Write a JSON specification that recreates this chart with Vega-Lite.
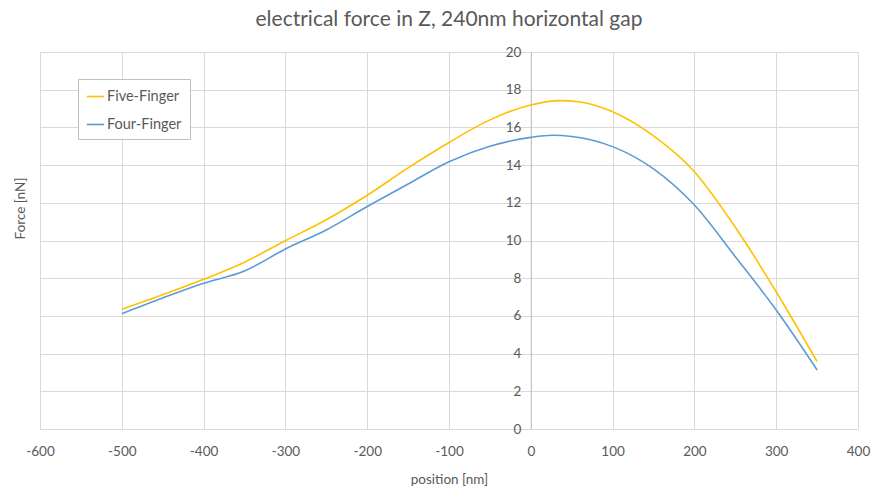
{
  "$schema": "https://vega.github.io/schema/vega-lite/v6.json",
  "autosize": "none",
  "width": 818,
  "height": 377,
  "padding": {"left": 40, "top": 52, "right": 14, "bottom": 59},
  "background": "white",
  "title": {
    "text": "electrical force in Z, 240nm horizontal gap",
    "font": "Lato",
    "fontSize": 21,
    "fontWeight": "normal",
    "color": "#595959",
    "offset": 15
  },
  "config": {
    "view": {"stroke": null},
    "font": "Lato"
  },
  "data": {
    "values": [
      {"x": -500, "y": 6.35, "s": "Five-Finger"},
      {"x": -450, "y": 7.12, "s": "Five-Finger"},
      {"x": -400, "y": 7.94, "s": "Five-Finger"},
      {"x": -350, "y": 8.85, "s": "Five-Finger"},
      {"x": -300, "y": 9.99, "s": "Five-Finger"},
      {"x": -250, "y": 11.1, "s": "Five-Finger"},
      {"x": -200, "y": 12.4, "s": "Five-Finger"},
      {"x": -150, "y": 13.85, "s": "Five-Finger"},
      {"x": -100, "y": 15.2, "s": "Five-Finger"},
      {"x": -50, "y": 16.4, "s": "Five-Finger"},
      {"x": 0, "y": 17.19, "s": "Five-Finger"},
      {"x": 36, "y": 17.42, "s": "Five-Finger"},
      {"x": 60, "y": 17.35, "s": "Five-Finger"},
      {"x": 100, "y": 16.83, "s": "Five-Finger"},
      {"x": 150, "y": 15.55, "s": "Five-Finger"},
      {"x": 200, "y": 13.65, "s": "Five-Finger"},
      {"x": 250, "y": 10.7, "s": "Five-Finger"},
      {"x": 300, "y": 7.28, "s": "Five-Finger"},
      {"x": 350, "y": 3.57, "s": "Five-Finger"},
      {"x": -500, "y": 6.12, "s": "Four-Finger"},
      {"x": -450, "y": 6.95, "s": "Four-Finger"},
      {"x": -400, "y": 7.73, "s": "Four-Finger"},
      {"x": -350, "y": 8.38, "s": "Four-Finger"},
      {"x": -300, "y": 9.55, "s": "Four-Finger"},
      {"x": -250, "y": 10.56, "s": "Four-Finger"},
      {"x": -200, "y": 11.8, "s": "Four-Finger"},
      {"x": -150, "y": 13.0, "s": "Four-Finger"},
      {"x": -100, "y": 14.18, "s": "Four-Finger"},
      {"x": -50, "y": 15.0, "s": "Four-Finger"},
      {"x": 0, "y": 15.47, "s": "Four-Finger"},
      {"x": 27, "y": 15.58, "s": "Four-Finger"},
      {"x": 50, "y": 15.52, "s": "Four-Finger"},
      {"x": 100, "y": 14.98, "s": "Four-Finger"},
      {"x": 150, "y": 13.8, "s": "Four-Finger"},
      {"x": 200, "y": 11.88, "s": "Four-Finger"},
      {"x": 250, "y": 9.14, "s": "Four-Finger"},
      {"x": 300, "y": 6.31, "s": "Four-Finger"},
      {"x": 350, "y": 3.13, "s": "Four-Finger"}
    ]
  },
  "mark": {"type": "line", "interpolate": "monotone", "strokeWidth": 1.6},
  "encoding": {
    "x": {
      "field": "x",
      "type": "quantitative",
      "scale": {"domain": [-600, 400], "nice": false, "zero": false},
      "axis": {
        "title": "position [nm]",
        "values": [-600, -500, -400, -300, -200, -100, 0, 100, 200, 300, 400],
        "labelExpr": "datum.value < 0 ? '-' + abs(datum.value) : '' + datum.value",
        "ticks": false,
        "labelPadding": 15,
        "labelFontSize": 13.5,
        "labelColor": "#595959",
        "labelFlush": false,
        "titleFontSize": 13.5,
        "titleFontWeight": "normal",
        "titleColor": "#595959",
        "titlePadding": 15,
        "domainColor": "#d9d9d9",
        "gridColor": "#d9d9d9",
        "gridWidth": 1
      }
    },
    "y": {
      "field": "y",
      "type": "quantitative",
      "scale": {"domain": [0, 20], "nice": false},
      "axis": {
        "title": "Force [nN]",
        "values": [0, 2, 4, 6, 8, 10, 12, 14, 16, 18, 20],
        "offset": -490.8,
        "ticks": false,
        "labelPadding": 10,
        "labelFontSize": 13.5,
        "labelColor": "#595959",
        "titleFontSize": 13.5,
        "titleFontWeight": "normal",
        "titleColor": "#595959",
        "titleX": -510.8,
        "titleY": 156,
        "titleAngle": -90,
        "titleBaseline": "middle",
        "titleAlign": "center",
        "domainColor": "#bfbfbf",
        "gridColor": "#d9d9d9",
        "gridWidth": 1
      }
    },
    "color": {
      "field": "s",
      "type": "nominal",
      "scale": {"domain": ["Five-Finger", "Four-Finger"], "range": ["#FFC000", "#5B9BD5"]},
      "legend": {
        "title": null,
        "orient": "none",
        "legendX": 38,
        "legendY": 27,
        "symbolType": "stroke",
        "symbolSize": 300,
        "symbolStrokeWidth": 1.6,
        "labelFontSize": 14.5,
        "labelColor": "#595959",
        "labelOffset": 2,
        "rowPadding": 12,
        "padding": 8,
        "strokeColor": "#bfbfbf",
        "fillColor": "white"
      }
    }
  }
}
